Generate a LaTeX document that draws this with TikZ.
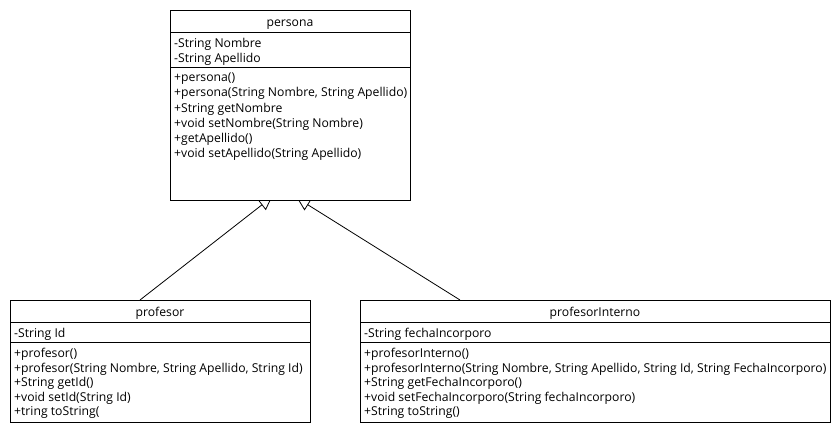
\documentclass[tikz,border=0pt]{standalone}
\usepackage{fontspec}
\setmainfont{Open Sans}
\usetikzlibrary{arrows.meta,calc}
\begin{document}
\begin{tikzpicture}[x=1pt,y=-1pt,
 box/.style={draw=black, line width=1pt, fill=white, anchor=north west, inner sep=0pt},
 sep/.style={line width=1pt},
 txt/.style={anchor=west, inner sep=0pt, yshift=-1.8pt, text height=9pt, text depth=3pt, font=\fontsize{12.2}{14}\selectfont},
 ttl/.style={anchor=center, inner sep=0pt, yshift=-1.8pt, text height=9pt, text depth=3pt, font=\fontsize{12.2}{14}\selectfont},
 inh/.style={line width=0.8pt, -{Triangle[open, length=13pt, width=13pt]}}]
\useasboundingbox[fill=white] (0,0) rectangle (840,430);
% connectors (drawn first; boxes cover the arrow tips)
\coordinate (pL) at (272,197);
\coordinate (pR) at (297,198);
\coordinate (cL) at (140,300);
\coordinate (cR) at (460,300);
\draw[inh] (cL) -- (pL);
\draw[inh] (cR) -- (pR);
% persona
\node[box, minimum width=240pt, minimum height=190pt] (persona) at (170,10) {};
\draw[sep] ($(persona.north west)+(0,22.5)$) -- ($(persona.north east)+(0,22.5)$);
\draw[sep] ($(persona.north west)+(0,57.5)$) -- ($(persona.north east)+(0,57.5)$);
\node[ttl] (pt) at (290,21.5) {persona};
\node[txt] (pa1) at (174,43) {-String Nombre};
\node[txt] (pa2) at (174,58) {-String Apellido};
\node[txt] (pm1) at (174,77) {+persona()};
\node[txt] (pm2) at (174,92.2) {+persona(String Nombre, String Apellido)};
\node[txt] (pm3) at (174,107.4) {+String getNombre};
\node[txt] (pm4) at (174,122.6) {+void setNombre(String Nombre)};
\node[txt] (pm5) at (174,137.8) {+getApellido()};
\node[txt] (pm6) at (174,153) {+void setApellido(String Apellido)};
% profesor
\node[box, minimum width=300pt, minimum height=122pt] (profesor) at (10,300) {};
\draw[sep] ($(profesor.north west)+(0,22.5)$) -- ($(profesor.north east)+(0,22.5)$);
\draw[sep] ($(profesor.north west)+(0,42.5)$) -- ($(profesor.north east)+(0,42.5)$);
\node[ttl] (ft) at (160,312) {profesor};
\node[txt] (fa1) at (14,332.5) {-String Id};
\node[txt] (fm1) at (14,353) {+profesor()};
\node[txt] (fm2) at (14,367.5) {+profesor(String Nombre, String Apellido, String Id)};
\node[txt] (fm3) at (14,382) {+String getId()};
\node[txt] (fm4) at (14,396.5) {+void setId(String Id)};
\node[txt] (fm5) at (14,411) {+tring toString(};
% profesorInterno
\node[box, minimum width=470pt, minimum height=122pt] (interno) at (360,300) {};
\draw[sep] ($(interno.north west)+(0,22.5)$) -- ($(interno.north east)+(0,22.5)$);
\draw[sep] ($(interno.north west)+(0,42.5)$) -- ($(interno.north east)+(0,42.5)$);
\node[ttl] (it) at (595,312) {profesorInterno};
\node[txt] (ia1) at (364,332.5) {-String fechaIncorporo};
\node[txt] (im1) at (364,353) {+profesorInterno()};
\node[txt] (im2) at (364,367.5) {+profesorInterno(String Nombre, String Apellido, String Id, String FechaIncorporo)};
\node[txt] (im3) at (364,382) {+String getFechaIncorporo()};
\node[txt] (im4) at (364,396.5) {+void setFechaIncorporo(String fechaIncorporo)};
\node[txt] (im5) at (364,411) {+String toString()};
\end{tikzpicture}
\end{document}
